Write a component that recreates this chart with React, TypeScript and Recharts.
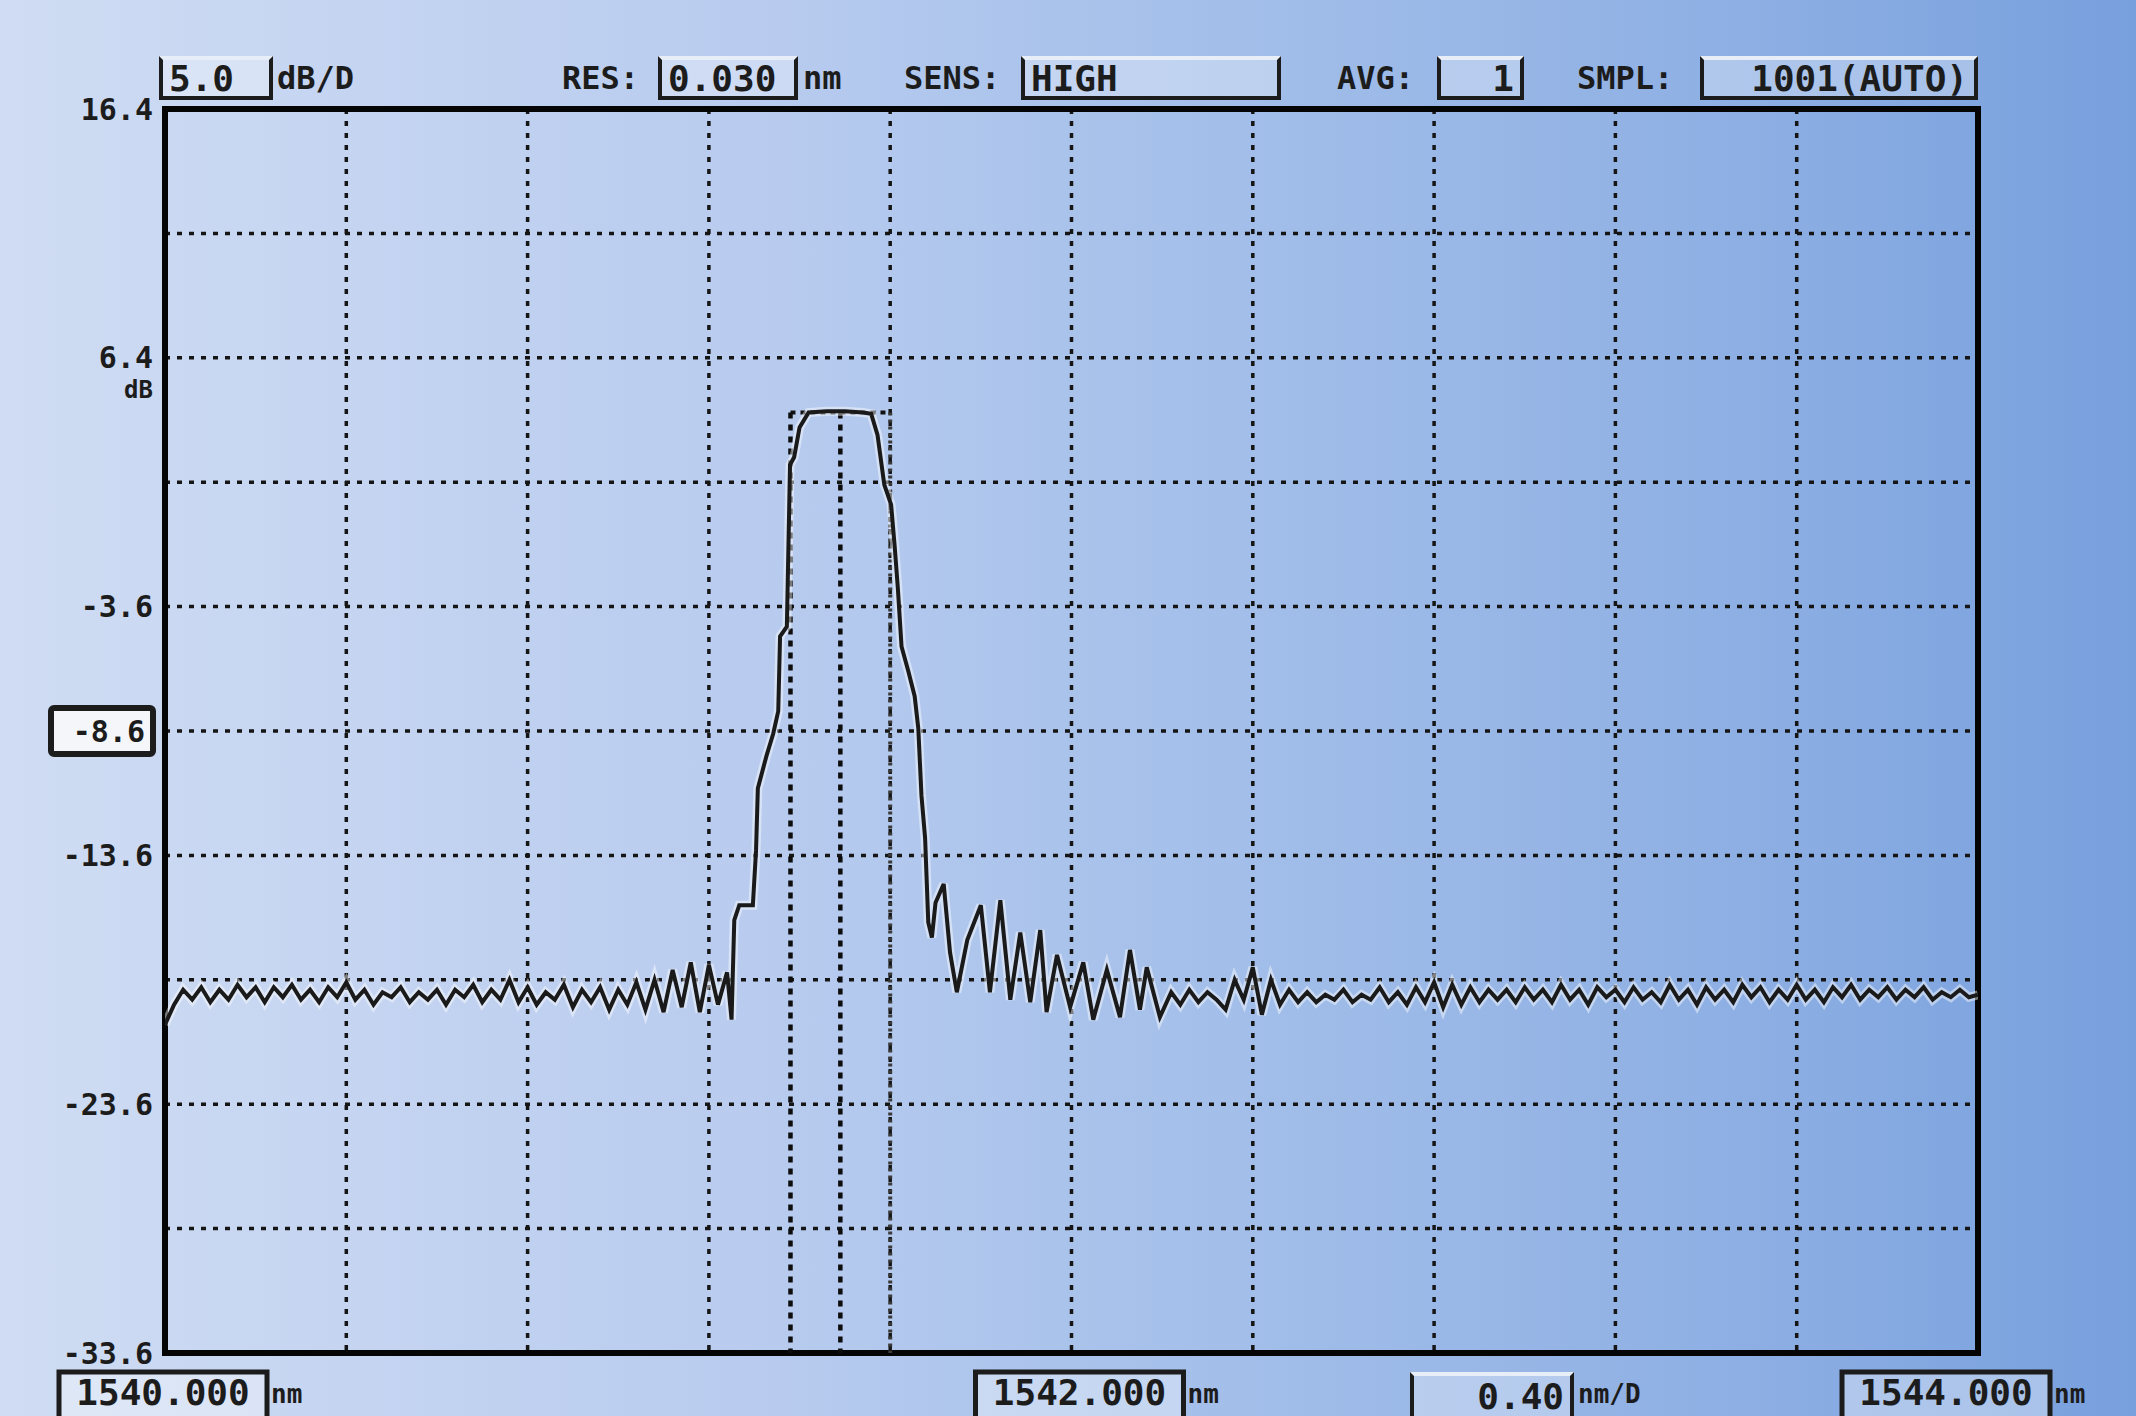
import React from "react";
import { LineChart, Line, XAxis, YAxis, CartesianGrid, ReferenceLine, ReferenceArea } from "recharts";

// OSA trace (nm / dB)
const leftNoiseNm = [
  1540.0, 1540.02, 1540.04, 1540.06, 1540.08, 1540.1, 1540.12, 1540.14, 1540.16, 1540.18,
  1540.2, 1540.22, 1540.24, 1540.26, 1540.28, 1540.3, 1540.32, 1540.34, 1540.36, 1540.38,
  1540.4, 1540.42, 1540.44, 1540.46, 1540.48, 1540.5, 1540.52, 1540.54, 1540.56, 1540.58,
  1540.6, 1540.62, 1540.64, 1540.66, 1540.68, 1540.7, 1540.72, 1540.74, 1540.76, 1540.78,
  1540.8, 1540.82, 1540.84, 1540.86, 1540.88, 1540.9, 1540.92, 1540.94, 1540.96, 1540.98,
  1541.0, 1541.02, 1541.04, 1541.06, 1541.08, 1541.1, 1541.12, 1541.14, 1541.16, 1541.18,
  1541.2, 1541.22, 1541.24, 1541.25,
];
const leftNoiseDb = [
  -20.4, -19.6, -19.0, -19.4, -18.9, -19.5, -19.0, -19.4, -18.8, -19.3,
  -18.9, -19.5, -18.9, -19.3, -18.8, -19.4, -19.0, -19.5, -18.9, -19.3,
  -18.7, -19.4, -19.0, -19.6, -19.1, -19.3, -18.9, -19.5, -19.1, -19.4,
  -19.0, -19.6, -19.0, -19.3, -18.8, -19.5, -19.0, -19.4, -18.6, -19.5,
  -18.9, -19.6, -19.1, -19.4, -18.8, -19.7, -19.0, -19.5, -18.9, -19.8,
  -19.0, -19.6, -18.7, -19.8, -18.6, -19.9, -18.2, -19.7, -17.9, -19.9,
  -18.0, -19.6, -18.3, -20.2,
];

const passbandNm = [
  1541.256, 1541.267, 1541.297, 1541.304, 1541.308, 1541.327, 1541.342, 1541.353, 1541.357, 1541.372,
  1541.379, 1541.388, 1541.4, 1541.42, 1541.46, 1541.5, 1541.54, 1541.558, 1541.572, 1541.587,
  1541.602, 1541.61, 1541.617, 1541.625, 1541.64, 1541.654, 1541.662, 1541.669, 1541.677, 1541.684,
  1541.692,
];
const passbandDb = [
  -16.2, -15.6, -15.6, -13.4, -10.9, -9.6, -8.7, -7.8, -4.8, -4.4,
  2.1, 2.4, 3.6, 4.2, 4.25, 4.25, 4.2, 4.15, 3.3, 1.3,
  0.5, -1.2, -2.9, -5.2, -6.2, -7.2, -8.5, -11.2, -12.9, -16.3,
  -16.9,
];

const rippleNm = [
  1541.7, 1541.718, 1541.732, 1541.747, 1541.77, 1541.8, 1541.82, 1541.843, 1541.865, 1541.887,
  1541.909, 1541.931, 1541.945, 1541.968, 1541.997, 1542.026, 1542.048, 1542.078, 1542.107, 1542.129,
  1542.151, 1542.166, 1542.195,
];
const rippleDb = [
  -15.5, -14.75, -17.5, -19.1, -17.0, -15.6, -19.1, -15.4, -19.4, -16.7,
  -19.5, -16.6, -19.9, -17.6, -19.7, -17.9, -20.2, -18.2, -20.1, -17.4,
  -19.8, -18.1, -20.1,
];

const rightNoiseNm = [
  1542.22, 1542.24, 1542.26, 1542.28, 1542.3, 1542.32, 1542.34, 1542.36, 1542.38, 1542.4,
  1542.42, 1542.44, 1542.46, 1542.48, 1542.5, 1542.52, 1542.54, 1542.56, 1542.58, 1542.6,
  1542.62, 1542.64, 1542.66, 1542.68, 1542.7, 1542.72, 1542.74, 1542.76, 1542.78, 1542.8,
  1542.82, 1542.84, 1542.86, 1542.88, 1542.9, 1542.92, 1542.94, 1542.96, 1542.98, 1543.0,
  1543.02, 1543.04, 1543.06, 1543.08, 1543.1, 1543.12, 1543.14, 1543.16, 1543.18, 1543.2,
  1543.22, 1543.24, 1543.26, 1543.28, 1543.3, 1543.32, 1543.34, 1543.36, 1543.38, 1543.4,
  1543.42, 1543.44, 1543.46, 1543.48, 1543.5, 1543.52, 1543.54, 1543.56, 1543.58, 1543.6,
  1543.62, 1543.64, 1543.66, 1543.68, 1543.7, 1543.72, 1543.74, 1543.76, 1543.78, 1543.8,
  1543.82, 1543.84, 1543.86, 1543.88, 1543.9, 1543.92, 1543.94, 1543.96, 1543.98, 1544.0,
];
const rightNoiseDb = [
  -19.1, -19.6, -19.0, -19.5, -19.1, -19.4, -19.8, -18.6, -19.4, -18.1,
  -20.0, -18.6, -19.6, -19.0, -19.5, -19.1, -19.5, -19.2, -19.4, -19.0,
  -19.5, -19.2, -19.4, -18.9, -19.5, -19.1, -19.6, -18.9, -19.5, -18.7,
  -19.7, -18.8, -19.6, -18.9, -19.5, -19.0, -19.4, -19.0, -19.5, -18.9,
  -19.4, -19.0, -19.5, -18.8, -19.4, -19.0, -19.6, -18.9, -19.3, -19.0,
  -19.5, -18.9, -19.4, -19.1, -19.5, -18.8, -19.4, -19.0, -19.6, -18.9,
  -19.4, -19.0, -19.5, -18.8, -19.3, -18.9, -19.5, -19.0, -19.4, -18.8,
  -19.4, -19.0, -19.5, -18.9, -19.3, -18.8, -19.4, -19.0, -19.3, -18.9,
  -19.4, -19.0, -19.3, -18.9, -19.4, -19.1, -19.3, -19.0, -19.3, -19.2,
];

// axes: 0.40 nm/D, 5.0 dB/D
const xGridTicks = [1540, 1540.4, 1540.8, 1541.2, 1541.6, 1542, 1542.4, 1542.8, 1543.2, 1543.6, 1544];
const xLabels = [1540, 1542, 1544];
const yGridTicks = [-33.6, -28.6, -23.6, -18.6, -13.6, -8.6, -3.6, 1.4, 6.4, 11.4, 16.4];
const yLabels = [16.4, 6.4, -3.6, -8.6, -13.6, -23.6, -33.6];
const refLevel = -8.6;

// markers
const markerNm = [1541.38, 1541.49, 1541.6];
const markerTopDb = 4.2;

const segments: [number[], number[]][] = [
  [leftNoiseNm, leftNoiseDb],
  [passbandNm, passbandDb],
  [rippleNm, rippleDb],
  [rightNoiseNm, rightNoiseDb],
];
const traceData = segments.flatMap(([nm, db]) => nm.map((w, i) => ({ nm: w, db: db[i] })));

const MONO = '"DejaVu Sans Mono", "Liberation Mono", monospace';
const INK = "#1c1c1c";

const near = (list: number[], v: number) => list.find((l) => Math.abs(l - v) < 1e-6);

const YTick = (props: any) => {
  const { x, y, payload } = props;
  const v = near(yLabels, payload.value);
  if (v === undefined) return <g />;
  const txt = v.toFixed(1);
  if (v === refLevel) {
    return (
      <g>
        <rect x={x - 102} y={y - 23} width={102} height={46} fill="#f4f6fa" stroke={INK} strokeWidth={6} rx={3} />
        <text x={x - 8} y={y} textAnchor="end" dominantBaseline="central" fontFamily={MONO} fontWeight="bold" fontSize={30} fill={INK}>
          {txt}
        </text>
      </g>
    );
  }
  return (
    <g>
      <text x={x} y={y} textAnchor="end" dominantBaseline="central" fontFamily={MONO} fontWeight="bold" fontSize={30} fill={INK}>
        {txt}
      </text>
      {v === 6.4 && (
        <text x={x} y={y + 32} textAnchor="end" dominantBaseline="central" fontFamily={MONO} fontWeight="bold" fontSize={24} fill={INK}>
          dB
        </text>
      )}
    </g>
  );
};

const xShift: Record<number, number> = { 1540: -2, 1542: 8, 1544: -32 };

const XTick = (props: any) => {
  const { x, y, payload } = props;
  const v = near(xLabels, payload.value);
  if (v === undefined) return <g />;
  const s = xShift[v] ?? 0;
  const w = 208;
  const h = 56;
  return (
    <g>
      <rect x={x - w / 2 + s} y={y} width={w} height={h} fill="rgba(255,255,255,0.35)" stroke={INK} strokeWidth={5} />
      <text x={x + s} y={y + 20} textAnchor="middle" dominantBaseline="central" fontFamily={MONO} fontWeight="bold" fontSize={36} fill={INK}>
        {v.toFixed(3)}
      </text>
      <text x={x + w / 2 + s + 4} y={y + 22} textAnchor="start" dominantBaseline="central" fontFamily={MONO} fontWeight="bold" fontSize={26} fill={INK}>
        nm
      </text>
    </g>
  );
};

const boxStyle = (left: number, top: number, width: number, align: "left" | "right" = "left"): React.CSSProperties => ({
  position: "absolute",
  left,
  top,
  width,
  height: 44,
  boxSizing: "border-box",
  border: `4px solid ${INK}`,
  borderTopColor: "#e8eef8",
  background: "rgba(255,255,255,0.3)",
  display: "flex",
  alignItems: "center",
  justifyContent: align === "left" ? "flex-start" : "flex-end",
  padding: "0 6px",
  fontFamily: MONO,
  fontWeight: "bold",
  fontSize: 36,
  color: INK,
});

const labelStyle = (left: number, top: number, size = 32): React.CSSProperties => ({
  position: "absolute",
  left,
  top,
  height: 44,
  display: "flex",
  alignItems: "center",
  fontFamily: MONO,
  fontWeight: "bold",
  fontSize: size,
  color: INK,
  whiteSpace: "nowrap",
});

export default function App() {
  return (
    <div
      style={{
        position: "fixed",
        left: 0,
        top: 0,
        width: 2136,
        height: 1416,
        overflow: "hidden",
        background: "linear-gradient(to right, #cfdcf3 0%, #b9ccef 35%, #a5c0ea 55%, #8fb0e4 80%, #78a0dd 100%)",
      }}
    >
      <LineChart width={2136} height={1416} data={traceData} margin={{ top: 109, right: 158, bottom: 0, left: 0 }}>
        <CartesianGrid stroke="#151515" strokeWidth={3.5} strokeDasharray="5 7" />
        <XAxis
          dataKey="nm"
          type="number"
          domain={[1540, 1544]}
          ticks={xGridTicks}
          interval={0}
          allowDataOverflow
          height={63}
          axisLine={false}
          tickLine={false}
          tickSize={0}
          tickMargin={19}
          tick={<XTick />}
        />
        <YAxis
          type="number"
          domain={[-33.6, 16.4]}
          ticks={yGridTicks}
          interval={0}
          allowDataOverflow
          width={165}
          axisLine={false}
          tickLine={false}
          tickSize={0}
          tickMargin={12}
          tick={<YTick />}
        />
        <ReferenceLine
          segment={[{ x: markerNm[0], y: markerTopDb }, { x: markerNm[2], y: markerTopDb }]}
          stroke="#111"
          strokeWidth={4}
          strokeDasharray="5 5"
        />
        <ReferenceLine
          segment={[{ x: markerNm[0], y: markerTopDb }, { x: markerNm[0], y: -33.6 }]}
          stroke="#0d0d0d"
          strokeWidth={4.5}
          strokeDasharray="6 6"
        />
        <ReferenceLine
          segment={[{ x: markerNm[1], y: markerTopDb }, { x: markerNm[1], y: -33.6 }]}
          stroke="#0d0d0d"
          strokeWidth={4.5}
          strokeDasharray="6 6"
        />
        <ReferenceLine
          segment={[{ x: markerNm[2], y: markerTopDb }, { x: markerNm[2], y: -33.6 }]}
          stroke="#3a3a3a"
          strokeWidth={4}
          strokeDasharray="3 4"
        />
        <Line type="linear" dataKey="db" dot={false} isAnimationActive={false} stroke="rgba(255,255,255,0.45)" strokeWidth={9} />
        <Line type="linear" dataKey="db" dot={false} isAnimationActive={false} stroke="#1a1a1a" strokeWidth={4} />
        <ReferenceArea x1={1540} x2={1544} y1={-33.6} y2={16.4} fill="none" stroke="#050505" strokeWidth={6} />
      </LineChart>

      {/* instrument settings header */}
      <div style={boxStyle(159, 56, 114)}>5.0</div>
      <div style={labelStyle(277, 56)}>dB/D</div>
      <div style={labelStyle(562, 56)}>RES:</div>
      <div style={boxStyle(658, 56, 140)}>0.030</div>
      <div style={labelStyle(803, 56)}>nm</div>
      <div style={labelStyle(904, 56)}>SENS:</div>
      <div style={boxStyle(1021, 56, 260)}>HIGH</div>
      <div style={labelStyle(1337, 56)}>AVG:</div>
      <div style={boxStyle(1437, 56, 87, "right")}>1</div>
      <div style={labelStyle(1577, 56)}>SMPL:</div>
      <div style={boxStyle(1700, 56, 278, "right")}>1001(AUTO)</div>

      {/* span per division */}
      <div style={{ ...boxStyle(1410, 1372, 164, "right"), height: 56, alignItems: "flex-start", fontSize: 36 }}>0.40</div>
      <div style={{ ...labelStyle(1578, 1372, 26) }}>nm/D</div>
    </div>
  );
}
